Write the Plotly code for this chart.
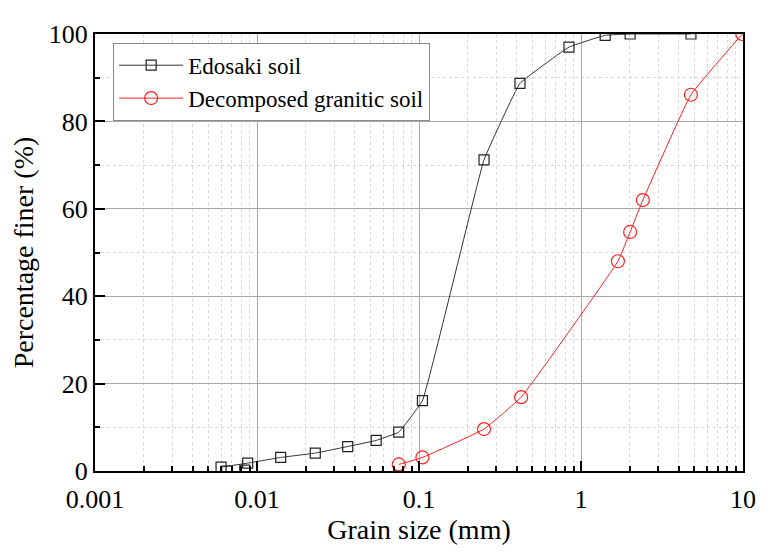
import plotly.graph_objects as go

# Data
edosaki_size = [0.0060, 0.00876, 0.0140, 0.0229, 0.0363, 0.0544, 0.075, 0.105, 0.252, 0.420, 0.843, 1.41, 2.01, 4.77]
edosaki_pass = [0.9, 1.8, 3.1, 4.1, 5.6, 7.0, 8.9, 16.1, 71.2, 88.7, 97.0, 99.7, 100.0, 100.0]
edosaki_extra_size = [0.0065, 0.0084]
edosaki_extra_pass = [0.0, 0.2]

granite_size = [0.075, 0.105, 0.252, 0.427, 1.69, 2.01, 2.41, 4.77, 9.9]
granite_pass = [1.5, 3.1, 9.6, 16.9, 48.0, 54.7, 62.0, 86.1, 100.0]

x_tick_vals = [0.001, 0.01, 0.1, 1, 10]
x_tick_text = ["0.001", "0.01", "0.1", "1", "10"]
y_tick_vals = [0, 20, 40, 60, 80, 100]

minor_x = [k * d for d in [0.001, 0.01, 0.1, 1] for k in range(2, 10)]

FONT = "'Liberation Serif', Tinos, 'DejaVu Serif', 'Noto Serif', serif"

fig = go.Figure()
fig.add_trace(go.Scatter(
    x=edosaki_size, y=edosaki_pass, mode="lines+markers", name="Edosaki soil",
    line=dict(color="#333333", width=1, shape="spline", smoothing=0.25),
    marker=dict(symbol="square-open", size=10, color="#222222", line=dict(width=1.2, color="#222222")),
))
fig.add_trace(go.Scatter(
    x=edosaki_extra_size, y=edosaki_extra_pass, mode="markers", showlegend=False,
    marker=dict(symbol="square-open", size=10, color="#222222", line=dict(width=1.2, color="#222222")),
))
fig.add_trace(go.Scatter(
    x=granite_size, y=granite_pass, mode="lines+markers", name="Decomposed granitic soil",
    line=dict(color="#ff2020", width=1, shape="spline", smoothing=0.3),
    marker=dict(symbol="circle-open", size=13, color="#ff2020", line=dict(width=1.2, color="#ff2020")),
))

fig.update_layout(
    width=772, height=553,
    margin=dict(l=87, r=37, t=21, b=90),
    paper_bgcolor="white", plot_bgcolor="white",
    font=dict(family=FONT, color="black", size=27),
    legend=dict(
        x=0.028, y=0.98, xanchor="left", yanchor="top",
        bordercolor="#8a8a8a", borderwidth=1, bgcolor="white",
        font=dict(family=FONT, size=23, color="black"),
        itemwidth=64, tracegroupgap=0,
    ),
)

fig.update_xaxes(
    type="log", range=[-3, 1],
    tickvals=x_tick_vals, ticktext=x_tick_text,
    ticks="inside", ticklen=10, tickwidth=1.5, tickcolor="black",
    ticklabelstandoff=4,
    showline=True, linewidth=2, linecolor="black", mirror=True,
    showgrid=True, gridcolor="#a8a8a8", gridwidth=1,
    minor=dict(tickvals=minor_x, ticks="inside", ticklen=5, tickwidth=1.5, tickcolor="black",
               showgrid=True, gridcolor="#d9d9d9", griddash="3px,3px", gridwidth=1),
    tickfont=dict(family=FONT, size=26, color="black"),
    title=dict(text="Grain size (mm)", font=dict(family=FONT, size=28, color="black"), standoff=4),
    zeroline=False,
)
fig.update_yaxes(
    range=[0, 100],
    tickvals=y_tick_vals,
    ticks="inside", ticklen=10, tickwidth=1.5, tickcolor="black",
    showline=True, linewidth=2, linecolor="black", mirror=True,
    showgrid=True, gridcolor="#a8a8a8", gridwidth=1,
    minor=dict(dtick=10, ticks="inside", ticklen=5, tickwidth=1.5, tickcolor="black",
               showgrid=True, gridcolor="#d9d9d9", griddash="3px,3px", gridwidth=1),
    tickfont=dict(family=FONT, size=26, color="black"),
    title=dict(text="Percentage finer (%)", font=dict(family=FONT, size=28, color="black"), standoff=8),
    zeroline=False,
)

fig.write_html("out.html")
